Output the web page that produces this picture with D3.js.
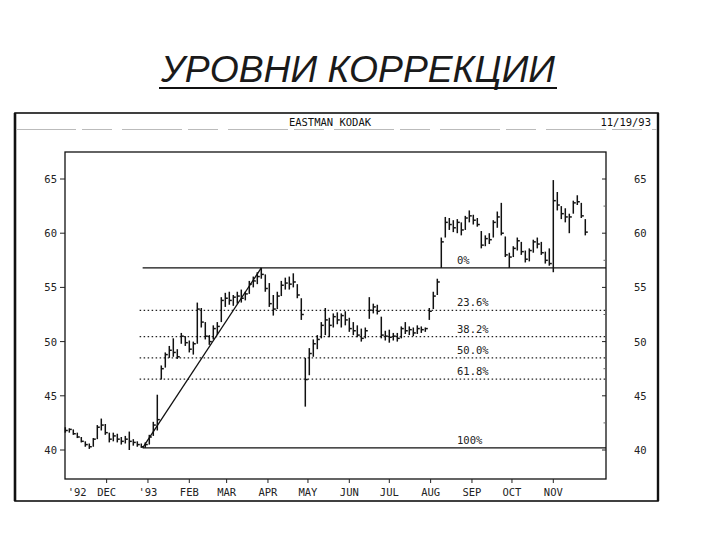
<!DOCTYPE html>
<html><head><meta charset="utf-8">
<script src="https://cdn.jsdelivr.net/npm/d3@7"></script>
<style>body{margin:0;background:#fff} svg{display:block}</style>
</head><body>
<svg id="c" width="720" height="540"></svg>
<script>
// ---------- data ----------
const chartTitle = "УРОВНИ КОРРЕКЦИИ";
const headerTitle = "EASTMAN KODAK";
const headerDate = "11/19/93";

const barDates = [
"1992-10-31","1992-11-03","1992-11-06","1992-11-09","1992-11-12","1992-11-15","1992-11-18","1992-11-21","1992-11-24","1992-11-27",
"1992-11-30","1992-12-03","1992-12-06","1992-12-09","1992-12-12","1992-12-15","1992-12-18","1992-12-21","1992-12-24","1992-12-27",
"1992-12-30","1993-01-02","1993-01-05","1993-01-08","1993-01-11","1993-01-14","1993-01-17","1993-01-20","1993-01-23","1993-01-26",
"1993-01-29","1993-02-01","1993-02-04","1993-02-07","1993-02-10","1993-02-13","1993-02-16","1993-02-19","1993-02-22","1993-02-25",
"1993-02-28","1993-03-03","1993-03-06","1993-03-09","1993-03-12","1993-03-15","1993-03-18","1993-03-21","1993-03-24","1993-03-27",
"1993-03-30","1993-04-02","1993-04-05","1993-04-08","1993-04-11","1993-04-14","1993-04-17","1993-04-20","1993-04-23","1993-04-26",
"1993-04-29","1993-05-02","1993-05-05","1993-05-08","1993-05-11","1993-05-14","1993-05-17","1993-05-20","1993-05-23","1993-05-26",
"1993-05-29","1993-06-01","1993-06-04","1993-06-07","1993-06-10","1993-06-13","1993-06-16","1993-06-19","1993-06-22","1993-06-25",
"1993-06-28","1993-07-01","1993-07-04","1993-07-07","1993-07-10","1993-07-13","1993-07-16","1993-07-19","1993-07-22","1993-07-25",
"1993-07-28","1993-07-31","1993-08-03","1993-08-06","1993-08-09","1993-08-12","1993-08-15","1993-08-18","1993-08-21","1993-08-24",
"1993-08-27","1993-08-30","1993-09-02","1993-09-05","1993-09-08","1993-09-11","1993-09-14","1993-09-17","1993-09-20","1993-09-23",
"1993-09-26","1993-09-29","1993-10-02","1993-10-05","1993-10-08","1993-10-11","1993-10-14","1993-10-17","1993-10-20","1993-10-23",
"1993-10-26","1993-10-29","1993-11-01","1993-11-04","1993-11-07","1993-11-10","1993-11-13","1993-11-16","1993-11-19","1993-11-22",
"1993-11-25"];

const barLow = [
41.6,41.6,41.4,41.1,40.7,40.3,40.1,40.3,41.0,41.8,
41.4,40.7,40.8,40.7,40.5,40.6,40.0,40.4,40.3,40.2,
40.2,40.5,41.3,41.8,46.5,47.6,48.5,48.6,48.4,49.8,
49.6,49.0,48.8,49.8,51.3,50.2,49.7,50.2,50.6,51.8,
53.2,53.4,53.3,53.5,53.6,53.8,54.4,55.0,55.3,55.8,
54.6,53.2,52.4,53.0,54.2,54.8,54.8,55.0,54.0,52.0,
44.0,46.9,48.6,49.3,50.3,50.6,50.4,51.3,51.6,51.3,
51.5,50.9,50.6,50.4,50.0,50.3,52.1,52.6,52.5,50.3,
50.1,49.9,50.1,50.0,50.3,50.7,50.6,50.5,50.7,50.8,
50.9,52.0,53.0,54.3,56.8,59.6,60.3,60.1,60.0,59.8,
60.3,61.0,60.8,60.6,58.6,58.8,59.0,59.6,60.5,59.8,
57.8,56.8,57.8,58.4,58.0,57.3,57.4,58.2,58.6,58.0,
57.2,57.0,56.4,62.1,61.3,61.0,60.0,61.8,62.6,61.4,
59.8];

const barHigh = [
42.1,42.0,41.9,41.6,41.2,40.8,40.6,41.1,42.3,42.9,
42.4,41.6,41.6,41.5,41.2,41.3,41.7,41.0,40.8,40.6,
40.7,41.4,42.6,45.1,47.8,49.0,49.6,50.3,49.3,50.8,
50.5,50.1,50.0,53.6,53.1,51.8,50.6,51.5,51.8,54.1,
54.5,54.6,54.3,54.6,54.8,54.6,55.6,56.0,56.4,56.8,
56.2,55.4,54.3,54.6,55.6,55.9,56.0,56.3,55.3,54.0,
48.5,49.4,50.2,50.6,51.8,53.1,52.2,52.6,52.7,52.6,
52.8,52.2,51.8,51.5,51.2,51.3,54.1,53.5,53.4,52.3,
51.0,51.1,50.8,50.8,51.4,51.8,51.4,51.3,51.5,51.4,
51.3,53.1,54.6,55.8,59.6,61.5,61.4,61.2,61.3,61.0,
61.6,62.1,61.7,61.4,60.2,59.8,60.0,61.2,62.0,62.8,
59.7,58.2,58.8,59.6,59.2,58.4,58.6,59.4,59.6,59.2,
58.3,58.6,64.9,63.8,62.5,62.3,61.8,63.0,63.5,62.8,
61.3];

const barClose = [
41.8,41.9,41.5,41.2,40.8,40.5,40.3,41.0,42.1,42.3,
41.6,41.0,41.3,41.0,40.8,41.0,40.8,40.7,40.5,40.3,
40.5,41.2,42.3,42.8,47.5,48.8,49.2,49.0,48.6,50.5,
49.9,49.3,49.8,53.0,51.8,50.5,50.0,51.2,51.4,53.8,
54.0,53.8,54.1,54.2,54.0,54.4,55.3,55.6,56.0,56.2,
54.9,53.5,53.0,54.2,55.2,55.4,55.3,55.5,54.3,52.5,
46.5,48.9,49.8,50.2,51.5,52.0,51.5,52.3,52.0,52.4,
52.0,51.2,51.0,50.6,50.3,51.0,52.9,53.2,52.8,50.6,
50.5,50.4,50.5,50.3,51.2,51.0,51.1,50.8,51.2,51.1,
51.2,52.8,54.2,55.5,59.2,61.0,60.8,60.5,61.0,60.3,
61.4,61.6,61.2,60.8,58.9,59.5,59.4,61.0,61.5,60.0,
58.0,57.8,58.6,59.3,58.3,57.6,58.4,59.2,59.0,58.2,
57.5,57.2,63.0,62.6,61.8,61.5,61.5,62.8,62.9,61.6,
60.1];

const yTicks = [40, 45, 50, 55, 60, 65];
const yMinorTicks = [42.5, 47.5, 52.5, 57.5, 62.5];
const monthTicks = ["1992-11-01","1992-12-01","1993-01-01","1993-02-01","1993-03-01","1993-04-01",
                    "1993-05-01","1993-06-01","1993-07-01","1993-08-01","1993-09-01","1993-10-01","1993-11-01"];
const monthLabels = ["'92","DEC","'93","FEB","MAR","APR","MAY","JUN","JUL","AUG","SEP","OCT","NOV"];

const swingLowDate = "1992-12-28", swingLow = 40.2;
const swingHighDate = "1993-03-27", swingHigh = 56.8;
const fibRatios = [0, 0.236, 0.382, 0.5, 0.618, 1];
const fibLabels = ["0%", "23.6%", "38.2%", "50.0%", "61.8%", "100%"];

// ---------- drawing ----------
const parse = d3.timeParse("%Y-%m-%d");
const svg = d3.select("#c");
const mono = "'DejaVu Sans Mono', 'Liberation Mono', monospace";

// title
svg.append("text").attr("x", 358).attr("y", 82).attr("text-anchor", "middle")
  .attr("font-family", "'Liberation Sans', Arial, sans-serif").attr("font-style", "italic")
  .attr("font-size", 37).attr("textLength", 394).attr("lengthAdjust", "spacingAndGlyphs")
  .attr("fill", "#1a1a1a").text(chartTitle);
svg.append("line").attr("x1", 159).attr("x2", 557).attr("y1", 88).attr("y2", 88)
  .attr("stroke", "#111").attr("stroke-width", 1.8);

// outer box
svg.append("rect").attr("x", 15).attr("y", 113).attr("width", 643).attr("height", 388)
  .attr("fill", "none").attr("stroke", "#111").attr("stroke-width", 1.6);
svg.append("line").attr("x1", 15).attr("x2", 15).attr("y1", 113).attr("y2", 501).attr("stroke", "#111").attr("stroke-width", 2.6);
svg.append("line").attr("x1", 658).attr("x2", 658).attr("y1", 113).attr("y2", 501).attr("stroke", "#111").attr("stroke-width", 2.4);
svg.append("line").attr("x1", 16).attr("x2", 657).attr("y1", 129.5).attr("y2", 129.5)
  .attr("stroke", "#bbb").attr("stroke-width", 1).attr("stroke-dasharray", "60,6,30,10");

svg.append("text").attr("x", 330).attr("y", 126).attr("text-anchor", "middle")
  .attr("font-family", mono).attr("font-size", 10.5).attr("fill", "#111").text(headerTitle);
svg.append("text").attr("x", 651).attr("y", 126).attr("text-anchor", "end")
  .attr("font-family", mono).attr("font-size", 10.5).attr("fill", "#111").text(headerDate);

// plot frame
const L = 65, R = 606, T = 152, B = 479;
const x = d3.scaleTime().domain([parse("1992-10-31"), parse("1993-12-10")]).range([65.3, 605.3]);
const y = d3.scaleLinear().domain([40, 65]).range([450, 179]);

svg.append("rect").attr("x", L).attr("y", T).attr("width", R - L).attr("height", B - T)
  .attr("fill", "none").attr("stroke", "#111").attr("stroke-width", 1.3);

// y ticks & labels
const gy = svg.append("g");
yTicks.forEach(v => {
  gy.append("line").attr("x1", L - 5).attr("x2", L).attr("y1", y(v)).attr("y2", y(v)).attr("stroke", "#222");
  gy.append("line").attr("x1", R - 4).attr("x2", R).attr("y1", y(v)).attr("y2", y(v)).attr("stroke", "#222");
  gy.append("text").attr("x", 57).attr("y", y(v) + 4).attr("text-anchor", "end")
    .attr("font-family", mono).attr("font-size", 10.5).attr("fill", "#222").text(v);
  gy.append("text").attr("x", 634).attr("y", y(v) + 4).attr("text-anchor", "start")
    .attr("font-family", mono).attr("font-size", 10.5).attr("fill", "#222").text(v);
});
yMinorTicks.forEach(v => {
  gy.append("line").attr("x1", R - 2.5).attr("x2", R).attr("y1", y(v)).attr("y2", y(v)).attr("stroke", "#666");
});

// x ticks & labels
const gx = svg.append("g");
monthTicks.forEach((d, i) => {
  const px = x(parse(d));
  if (px > L + 4) {
    gx.append("line").attr("x1", px).attr("x2", px).attr("y1", B).attr("y2", B + 4).attr("stroke", "#222");
  }
  gx.append("text").attr("x", i === 0 ? px + 1 : px).attr("y", 496)
    .attr("text-anchor", i === 0 ? "start" : "middle")
    .attr("font-family", mono).attr("font-size", 10.5).attr("fill", "#222").text(monthLabels[i]);
});

// fibonacci retracement levels
const xs = x(parse(swingLowDate));
const gf = svg.append("g");
fibRatios.forEach((r, i) => {
  const lv = swingHigh - (swingHigh - swingLow) * r;
  const solid = (r === 0 || r === 1);
  gf.append("line").attr("x1", solid ? xs : xs - 3).attr("x2", R).attr("y1", y(lv)).attr("y2", y(lv))
    .attr("stroke", solid ? "#111" : "#222").attr("stroke-width", solid ? 1.3 : 1.1)
    .attr("stroke-dasharray", solid ? null : "1.5,2.5");
  gf.append("text").attr("x", 457).attr("y", y(lv) - 4)
    .attr("font-family", mono).attr("font-size", 10.5).attr("fill", "#222").text(fibLabels[i]);
});

// trend line
svg.append("line").attr("x1", x(parse(swingLowDate))).attr("y1", y(swingLow))
  .attr("x2", x(parse(swingHighDate))).attr("y2", y(swingHigh))
  .attr("stroke", "#111").attr("stroke-width", 1.3);

// price bars
const gb = svg.append("g").attr("stroke", "#111").attr("stroke-width", 1.5);
const idx = d3.range(barDates.length);
gb.selectAll("line.hl").data(idx).join("line").attr("class", "hl")
  .attr("x1", i => x(parse(barDates[i]))).attr("x2", i => x(parse(barDates[i])))
  .attr("y1", i => y(barLow[i])).attr("y2", i => y(barHigh[i]));
gb.selectAll("line.cl").data(idx).join("line").attr("class", "cl")
  .attr("x1", i => x(parse(barDates[i]))).attr("x2", i => x(parse(barDates[i])) + 2.5)
  .attr("y1", i => y(barClose[i])).attr("y2", i => y(barClose[i]));
</script>
</body></html>
